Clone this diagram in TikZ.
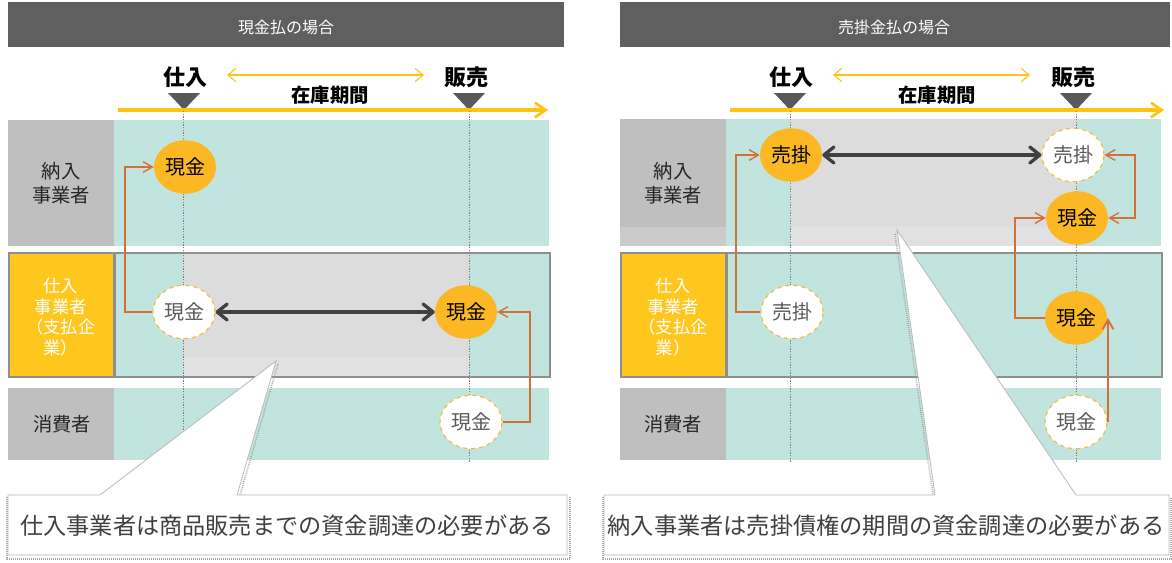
\documentclass[tikz,border=0pt]{standalone}
\usepackage{fontspec}
\setmainfont{Noto Sans CJK JP}
\usetikzlibrary{arrows.meta,shapes.geometric,calc}
\definecolor{tealc}{HTML}{C1E4DE}
\definecolor{lblgray}{HTML}{BFBFBF}
\definecolor{lblband}{HTML}{CBCBCE}
\definecolor{yel}{HTML}{FFC61E}
\definecolor{hdr}{HTML}{5F5F5F}
\definecolor{orng}{HTML}{FBB724}
\definecolor{darkarr}{HTML}{404040}
\definecolor{copper}{HTML}{D2703A}
\definecolor{bordgray}{HTML}{8F8F8F}
\definecolor{hl}{HTML}{DCDCDC}
\definecolor{hlband}{HTML}{E1E1E3}
\definecolor{trig}{HTML}{595959}
\definecolor{yline}{HTML}{FFC20E}
\definecolor{txt}{HTML}{262626}
\definecolor{wtxt}{HTML}{5A5A5A}
\definecolor{ctxt}{HTML}{404040}
\begin{document}
\begin{tikzpicture}[x=0.75pt,y=-0.75pt,
  hdrtext/.style={text=white,font=\fontsize{12}{14}\selectfont},
  evt/.style={text=black,font=\fontsize{16.5}{18}\selectfont\bfseries},
  period/.style={text=black,font=\fontsize{14.5}{16}\selectfont\bfseries},
  lbl/.style={align=center,text=txt,font=\fontsize{14.5}{17.5}\selectfont},
  ylbl/.style={align=center,text=white,font=\fontsize{13}{15.5}\selectfont},
  coin/.style={ellipse,minimum width=46.5pt,minimum height=40pt,inner sep=0pt,font=\fontsize{15}{16}\selectfont},
  fcoin/.style={coin,fill=orng,text=black},
  wcoin/.style={coin,fill=white,draw=orng,dashed,line width=0.8pt,text=wtxt},
  darr/.style={draw=darkarr,line width=3pt,{Straight Barb[length=7.5pt,width=12pt,line width=2.5pt,round]}-{Straight Barb[length=7.5pt,width=12pt,line width=2.5pt,round]}},
  oarr/.style={draw=copper,line width=1pt,-{Straight Barb[length=7pt,width=8pt]}},
  oarrb/.style={draw=copper,line width=1pt,{Straight Barb[length=7pt,width=8pt]}-{Straight Barb[length=7pt,width=8pt]}},
  ythin/.style={draw=yline,line width=0.8pt,{Straight Barb[length=6pt,width=10pt]}-{Straight Barb[length=6pt,width=10pt]}},
  ythick/.style={draw=yline,line width=3pt,-{Straight Barb[length=8pt,width=11pt,line width=2pt]}},
  dotline/.style={draw=gray,line width=0.6pt,dash pattern=on 1pt off 1pt},
  callout/.style={fill=white,draw=gray!55,line width=0.6pt},
  shadow/.style={draw=gray!70,line width=1.2pt,dash pattern=on 0.6pt off 0.9pt},
  ctext/.style={text=ctxt,font=\fontsize{17.4}{20}\selectfont}
]
\useasboundingbox (0,0) rectangle (1172,562);

% ================= LEFT PANEL =================
\fill[hdr] (8,2) rectangle (564,47);
\node[hdrtext] (lh) at (286,27) {現金払の場合};

\node[evt] (lbuy) at (185,77) {仕入};
\node[evt] (lsell) at (466,77) {販売};
\coordinate (lta) at (227,75);
\coordinate (ltb) at (424,75);
\draw[ythin] (lta) -- (ltb);
\node[period] (lper) at (330,95) {在庫期間};
\fill[trig] (168,93) -- (200,93) -- (184,110) -- cycle;
\fill[trig] (453,93) -- (485,93) -- (469,110) -- cycle;

% lanes
\fill[lblgray] (8,120) rectangle (114,246);
\fill[tealc] (114,120) rectangle (549,246);
\fill[yel] (10,254) rectangle (113,376);
\fill[tealc] (116,254) rectangle (549,376);
\fill[hl] (183,254) rectangle (469,357);
\fill[hlband] (183,357) rectangle (469,376);
\draw[bordgray,line width=2pt] (9,253) rectangle (550,377);
\draw[bordgray,line width=2pt] (114.5,253) -- (114.5,377);
\fill[lblgray] (8,388) rectangle (114,460);
\fill[tealc] (114,388) rectangle (549,460);

\node[lbl] (ll1) at (61,183) {納入\\事業者};
\node[ylbl] (ll2) at (61,317) {仕入\\事業者\\（支払企\\業）};
\node[lbl] (ll3) at (62,424) {消費者};

\draw[ythick] (118,110) -- (548,110);
\draw[dotline] (183.5,111) -- (183.5,463);
\draw[dotline] (469,111) -- (469,463);

% callout left
\draw[shadow] (7,497) -- (7,559) -- (570,559) -- (570,497);
\draw[shadow] (278,364) -- (240,495);
\draw[callout] (8,495) -- (100,495) -- (276,361) -- (237,495) -- (567,495) -- (567,555) -- (8,555) -- cycle;
\node[ctext] (lct) at (287,526) {仕入事業者は商品販売までの資金調達の必要がある};

% coins left
\node[fcoin] (c1) at (185,167) {現金};
\node[wcoin] (c2) at (184,312) {現金};
\node[fcoin] (c3) at (466,312) {現金};
\node[wcoin] (c4) at (471,422) {現金};

\draw[darr] (c2.east) -- (c3.west);
\coordinate (lk1) at (125,0);
\coordinate (lk2) at (530,0);
\draw[oarr] (c2.west) -- (c2.west -| lk1) -- (c1.west -| lk1) -- (c1.west);
\draw[oarr] (c4.east) -- (c4.east -| lk2) -- (c3.east -| lk2) -- (c3.east);

% ================= RIGHT PANEL =================
\fill[hdr] (620,2) rectangle (1170,47);
\node[hdrtext] (rh) at (894,27) {売掛金払の場合};

\node[evt] (rbuy) at (791,77) {仕入};
\node[evt] (rsell) at (1073,77) {販売};
\coordinate (rta) at (833,75);
\coordinate (rtb) at (1030,75);
\draw[ythin] (rta) -- (rtb);
\node[period] (rper) at (937,95) {在庫期間};
\fill[trig] (774,93) -- (806,93) -- (790,110) -- cycle;
\fill[trig] (1060,93) -- (1092,93) -- (1076,110) -- cycle;

% lanes
\fill[lblgray] (620,119) rectangle (726,227);
\fill[lblband] (620,227) rectangle (726,246);
\fill[tealc] (726,119) rectangle (1161,246);
\fill[hl] (790,119) rectangle (1077,227);
\fill[hlband] (790,227) rectangle (1077,246);
\fill[yel] (622,254) rectangle (725,376);
\fill[tealc] (728,254) rectangle (1161,376);
\draw[bordgray,line width=2pt] (621,253) rectangle (1162,377);
\draw[bordgray,line width=2pt] (726.5,253) -- (726.5,377);
\fill[lblgray] (620,388) rectangle (726,460);
\fill[tealc] (726,388) rectangle (1161,460);

\node[lbl] (rl1) at (673,183) {納入\\事業者};
\node[ylbl] (rl2) at (673,317) {仕入\\事業者\\（支払企\\業）};
\node[lbl] (rl3) at (673,424) {消費者};

\draw[ythick] (730,110) -- (1164,110);
\draw[dotline] (790,111) -- (790,463);
\draw[dotline] (1076,111) -- (1076,463);

% callout right
\draw[shadow] (603,497) -- (603,559) -- (1171,559) -- (1171,497);
\draw[shadow] (895,234) -- (933,495);
\draw[callout] (604,495) -- (935,495) -- (897,230) -- (1076,495) -- (1169,495) -- (1169,555) -- (604,555) -- cycle;
\node[ctext] (rct) at (886,526) {納入事業者は売掛債権の期間の資金調達の必要がある};

% coins right
\node[fcoin] (r1) at (791,155) {売掛};
\node[wcoin] (r2) at (1073,155) {売掛};
\node[fcoin] (r3) at (1077,218) {現金};
\node[wcoin] (r4) at (792,312) {売掛};
\node[fcoin] (r5) at (1076,318) {現金};
\node[wcoin] (r6) at (1076,422) {現金};

\draw[darr] (r1.east) -- (r2.west);
\coordinate (rk1) at (736,0);
\coordinate (rk2) at (1135,0);
\coordinate (rk3) at (1015,0);
\coordinate (rk4) at (1108,0);
\draw[oarr] (r4.west) -- (r4.west -| rk1) -- (r1.west -| rk1) -- (r1.west);
\draw[oarrb] (r2.east) -- (r2.east -| rk2) -- (r3.east -| rk2) -- (r3.east);
\draw[oarr] (r5.west) -- (r5.west -| rk3) -- (r3.west -| rk3) -- (r3.west);
\draw[oarr,line width=1.4pt] (r6.east -| rk4) -- (r5.east -| rk4);
\end{tikzpicture}
\end{document}
